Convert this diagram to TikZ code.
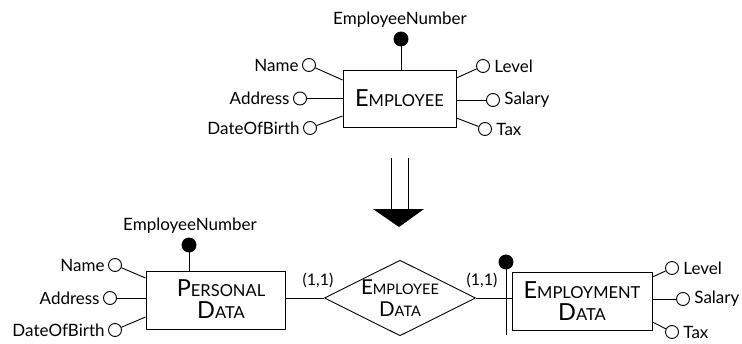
\documentclass[tikz,border=0pt]{standalone}
\usepackage{fontspec}
\setmainfont{Lato}
\usetikzlibrary{shapes.geometric}
% small capitals built from a large initial and smaller remaining capitals
\newcommand\bigsc[2]{{\fontsize{23.5}{21.5}\selectfont #1}{\fontsize{16.5}{21.5}\selectfont #2}}
\newcommand\relsc[2]{{\fontsize{20.5}{22}\selectfont #1}{\fontsize{14.5}{22}\selectfont #2}}
\tikzset{
  every picture/.style={line width=0.9pt},
  entity/.style={draw, rectangle, inner sep=0pt, align=center,
    font=\fontsize{23.5}{21.5}\selectfont},
  attr/.style={draw, circle, minimum size=13pt, inner sep=0pt, fill=white},
  keyattr/.style={draw, circle, minimum size=14pt, inner sep=0pt, fill=black},
  lbl/.style={font=\fontsize{17}{19}\selectfont, inner sep=1pt},
  lblL/.style={lbl, anchor=east, xshift=-2pt},
  lblR/.style={lbl, anchor=west, xshift=3pt},
  card/.style={font=\fontsize{16}{18}\selectfont, inner sep=0pt, anchor=base},
}
\begin{document}
\begin{tikzpicture}[x=1pt,y=-1pt]
\useasboundingbox (0,0) rectangle (742,343);

% ---------- entity EMPLOYEE ----------
\node[entity, minimum width=113pt, minimum height=57pt] (emp) at (399.5,98.5)
  {\bigsc{E}{MPLOYEE}};
\node[keyattr] (ekey) at (401,39) {};
\node[lbl, anchor=base] (ekeyl) at (400,24) {EmployeeNumber};
\draw (ekey) -- (emp.north -| ekey);

\node[attr] (ename) at (309,65) {};
\node[lblL] (enamel) at (ename.west) {Name};
\node[attr] (eaddr) at (300,98.5) {};
\node[lblL] (eaddrl) at (eaddr.west) {Address};
\node[attr] (edob) at (310,128) {};
\node[lblL] (edobl) at (edob.west) {DateOfBirth};
\draw (ename) -- ([yshift=18.5pt]emp.west);
\draw (eaddr) -- (emp.west);
\draw (edob) -- ([yshift=-17.5pt]emp.west);

\node[attr] (elev) at (483,66) {};
\node[lblR] (elevl) at (elev.east) {Level};
\node[attr] (esal) at (493,100) {};
\node[lblR] (esall) at (esal.east) {Salary};
\node[attr] (etax) at (485,129) {};
\node[lblR] (etaxl) at (etax.east) {Tax};
\draw (elev) -- ([yshift=20.5pt]emp.east);
\draw (esal) -- ([yshift=-1.5pt]emp.east);
\draw (etax) -- ([yshift=-19.5pt]emp.east);

% ---------- transformation arrow ----------
\coordinate (ar1) at (391,158);
\coordinate (ar2) at (408,158);
\coordinate (ab1) at (391,209);
\coordinate (ab2) at (408,209);
\draw (ar1) -- (ab1);
\draw (ar2) -- (ab2);
\coordinate (tl) at (373,209);
\coordinate (tr) at (424,209);
\coordinate (tt) at (399,227);
\fill (tl) -- (tr) -- (tt) -- cycle;

% ---------- entity PERSONAL DATA ----------
\node[entity, minimum width=139pt, minimum height=58pt] (pd) at (215.5,300) {};
\node[align=center, inner sep=0pt, font=\fontsize{23.5}{21.5}\selectfont]
  (pdt) at (221,299) {\bigsc{P}{ERSONAL}\\\bigsc{D}{ATA}};
\node[keyattr] (pkey) at (189,245) {};
\node[lbl, anchor=base] (pkeyl) at (190,230) {EmployeeNumber};
\draw (pkey) -- (pd.north -| pkey);

\node[attr] (pname) at (115,265) {};
\node[lblL] (pnamel) at (pname.west) {Name};
\node[attr] (paddr) at (110,298) {};
\node[lblL] (paddrl) at (paddr.west) {Address};
\node[attr] (pdob) at (115,330) {};
\node[lblL] (pdobl) at (pdob.west) {DateOfBirth};
\draw (pname) -- ([yshift=22pt]pd.west);
\draw (paddr) -- ([yshift=2pt]pd.west);
\draw (pdob) -- ([yshift=-17pt]pd.west);

% ---------- relationship EMPLOYEE DATA ----------
\node[draw, diamond, minimum width=144pt, minimum height=70pt, inner sep=0pt,
  align=center, aspect=2, font=\fontsize{20.5}{22}\selectfont] (rel) at (400,298)
  {\relsc{E}{MPLOYEE}\\\relsc{D}{ATA}};
\draw (pd.east |- rel.west) -- (rel.west);
\node[card] (c1) at (318,285) {(1,1)};

% ---------- entity EMPLOYMENT DATA ----------
\node[entity, minimum width=140pt, minimum height=58pt] (ed) at (582,301)
  {\bigsc{E}{MPLOYMENT}\\\bigsc{D}{ATA}};
\draw (rel.east) -- (ed.west |- rel.east);
\node[card] (c2) at (482,285) {(1,1)};

% external identifier: bar with filled dot
\node[keyattr] (xkey) at (506,262) {};
\coordinate (xbot) at (506,335);
\draw (xkey) -- (xbot);

\node[attr] (level) at (672,268) {};
\node[lblR] (levell) at (level.east) {Level};
\node[attr] (salary) at (683,299) {};
\node[lblR] (salaryl) at (salary.east) {Salary};
\node[attr] (tax) at (672,332) {};
\node[lblR] (taxl) at (tax.east) {Tax};
\draw (level) -- ([yshift=24pt]ed.east);
\draw (salary) -- ([yshift=2pt]ed.east);
\draw (tax) -- ([yshift=-21pt]ed.east);
\end{tikzpicture}
\end{document}
